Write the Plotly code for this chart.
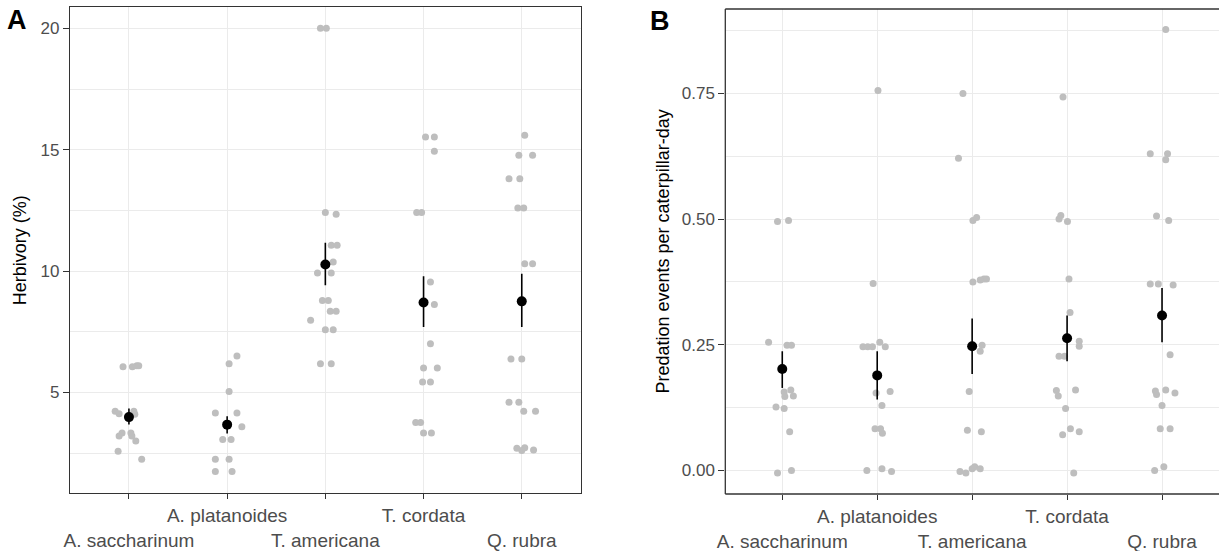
import plotly.graph_objects as go

# ---------------- data ----------------
species = ["A. saccharinum", "A. platanoides", "T. americana", "T. cordata", "Q. rubra"]
tick_text = ["\u00a0<br>A. saccharinum", "A. platanoides", "\u00a0<br>T. americana",
             "T. cordata", "\u00a0<br>Q. rubra"]

herb_sacc = [6.06, 6.06, 6.10, 6.10, 4.22, 4.12, 4.22, 4.10, 3.32, 3.20, 3.32, 3.20, 3.00, 2.57, 2.24]
herb_sacc_j = [-0.06, 0.035, 0.08, 0.10, -0.14, -0.10, 0.05, 0.06, -0.07, -0.10, 0.02, 0.03, 0.07, -0.11, 0.13]
herb_plat = [6.18, 6.50, 5.04, 4.15, 4.15, 3.58, 3.06, 3.06, 2.24, 2.24, 1.74, 1.74]
herb_plat_j = [0.02, 0.10, 0.02, -0.12, 0.10, 0.15, -0.045, 0.04, -0.12, 0.02, -0.12, 0.05]
herb_amer = [20.0, 20.0, 12.41, 12.34, 11.06, 11.06, 10.37, 9.92, 9.92, 8.79, 8.79, 8.34, 8.34, 7.97, 7.58, 7.58, 6.18, 6.18]
herb_amer_j = [-0.05, 0.01, 0.0, 0.11, 0.06, 0.12, 0.08, -0.08, 0.06, -0.03, 0.03, 0.05, 0.11, -0.15, 0.0, 0.08, -0.05, 0.06]
herb_cord = [15.52, 15.52, 14.94, 12.41, 12.41, 9.55, 8.62, 7.00, 6.00, 6.00, 5.43, 5.43, 3.76, 3.76, 3.32, 3.32]
herb_cord_j = [0.02, 0.11, 0.11, -0.07, -0.02, 0.07, 0.11, 0.07, 0.0, 0.14, -0.01, 0.07, -0.08, -0.03, 0.0, 0.08]
herb_rubr = [15.59, 14.77, 14.77, 13.80, 13.80, 12.60, 12.60, 10.30, 10.30, 6.37, 6.37, 4.59, 4.59, 4.22, 4.22, 2.70, 2.72, 2.60, 2.62]
herb_rubr_j = [0.03, -0.03, 0.11, -0.13, -0.02, -0.04, 0.02, 0.03, 0.11, -0.11, 0.0, -0.13, -0.03, 0.02, 0.14, -0.05, 0.03, 0.0, 0.12]

herb_mean = [3.98, 3.67, 10.27, 8.70, 8.75]
herb_low = [3.68, 3.30, 9.41, 7.69, 7.69]
herb_high = [4.33, 4.02, 11.16, 9.78, 9.89]

# Panel B: predation events per caterpillar-day
pred_sacc = [0.495, 0.497, 0.255, 0.249, 0.249, 0.156, 0.160, 0.147, 0.148, 0.126, 0.123, 0.077, -0.005, 0.0]
pred_sacc_j = [-0.05, 0.066, -0.144, 0.05, 0.097, 0.02, 0.09, 0.027, 0.117, -0.066, 0.02, 0.078, -0.05, 0.097]
pred_plat = [0.756, 0.372, 0.246, 0.246, 0.246, 0.255, 0.246, 0.154, 0.157, 0.129, 0.083, 0.083, 0.074, 0.0, 0.003, -0.002]
pred_plat_j = [0.008, -0.043, -0.15, -0.1, -0.05, 0.027, 0.085, -0.012, 0.136, 0.05, -0.023, 0.035, 0.055, -0.109, 0.05, 0.151]
pred_amer = [0.750, 0.621, 0.497, 0.503, 0.375, 0.379, 0.381, 0.381, 0.249, 0.237, 0.157, 0.080, 0.077, -0.002, -0.005, 0.003, 0.007, 0.003]
pred_amer_j = [-0.097, -0.144, 0.008, 0.047, 0.008, 0.085, 0.124, 0.151, 0.105, 0.085, -0.031, -0.05, 0.097, -0.128, -0.066, 0.0, 0.027, 0.085]
pred_cord = [0.743, 0.507, 0.500, 0.495, 0.381, 0.314, 0.257, 0.247, 0.227, 0.227, 0.159, 0.148, 0.160, 0.123, 0.071, 0.083, 0.077, -0.005]
pred_cord_j = [-0.043, -0.066, -0.085, 0.004, 0.02, 0.031, 0.128, 0.128, -0.085, -0.027, -0.113, -0.093, 0.089, -0.016, -0.047, 0.035, 0.128, 0.07]
pred_rubr = [0.877, 0.630, 0.630, 0.618, 0.506, 0.497, 0.371, 0.371, 0.369, 0.230, 0.158, 0.151, 0.160, 0.154, 0.129, 0.083, 0.083, 0.0, 0.007]
pred_rubr_j = [0.039, -0.124, 0.058, 0.039, -0.058, 0.07, -0.124, -0.039, 0.117, 0.085, -0.07, -0.058, 0.039, 0.136, 0.0, -0.019, 0.085, -0.078, 0.019]

pred_mean = [0.2016, 0.189, 0.247, 0.263, 0.308]
pred_low = [0.164, 0.141, 0.192, 0.217, 0.255]
pred_high = [0.237, 0.237, 0.302, 0.308, 0.363]

# ---------------- build ----------------
W, H = 1219, 551
FONT = "Liberation Sans"
GREY_PT = "#BEBEBE"
GRID = "#EBEBEB"
BORDER = "#333333"
TICKTXT = "#4D4D4D"

fig = go.Figure()

def add_panel(raw, jit, mean, low, high, xa, ya):
    xs, ys = [], []
    for i, (vals, js) in enumerate(zip(raw, jit)):
        for v, j in zip(vals, js):
            xs.append(i + j)
            ys.append(v)
    fig.add_trace(go.Scatter(x=xs, y=ys, mode="markers", xaxis=xa, yaxis=ya,
                             marker=dict(color=GREY_PT, size=7, line=dict(width=0)),
                             showlegend=False, hoverinfo="skip"))
    fig.add_trace(go.Scatter(x=list(range(len(mean))), y=mean, mode="markers", xaxis=xa, yaxis=ya,
                             marker=dict(color="black", size=10, line=dict(width=0)),
                             error_y=dict(type="data", symmetric=False,
                                          array=[h - m for h, m in zip(high, mean)],
                                          arrayminus=[m - l for m, l in zip(mean, low)],
                                          color="black", thickness=1.6, width=0),
                             showlegend=False, hoverinfo="skip"))

add_panel([herb_sacc, herb_plat, herb_amer, herb_cord, herb_rubr],
          [herb_sacc_j, herb_plat_j, herb_amer_j, herb_cord_j, herb_rubr_j],
          herb_mean, herb_low, herb_high, "x", "y")
add_panel([pred_sacc, pred_plat, pred_amer, pred_cord, pred_rubr],
          [pred_sacc_j, pred_plat_j, pred_amer_j, pred_cord_j, pred_rubr_j],
          pred_mean, pred_low, pred_high, "x2", "y2")

xcommon = dict(range=[-0.6, 4.6], tickvals=list(range(5)), ticktext=tick_text,
               tickangle=0, automargin=False,
               showgrid=True, gridcolor=GRID, gridwidth=1, zeroline=False,
               ticks="outside", ticklen=5, tickwidth=1.2, tickcolor=BORDER,
               tickfont=dict(family=FONT, size=19, color=TICKTXT))
ycommon = dict(showgrid=True, gridcolor=GRID, gridwidth=1, zeroline=False, automargin=False,
               ticks="outside", ticklen=6, tickwidth=1.2, tickcolor=BORDER,
               tickfont=dict(family=FONT, size=17, color=TICKTXT))

frame_line = dict(color=BORDER, width=1.3)
shapes = [
    # panel B frame: left, top and bottom edges (right edge lies outside the cropped image)
    dict(type="line", xref="x2 domain", yref="y2 domain", x0=0, x1=0, y0=0, y1=1,
         line=frame_line, layer="above"),
    dict(type="line", xref="x2 domain", yref="y2 domain", x0=0, x1=1, y0=1, y1=1,
         line=frame_line, layer="above"),
    dict(type="line", xref="x2 domain", yref="y2 domain", x0=0, x1=1, y0=0, y1=0,
         line=frame_line, layer="above"),
]

fig.update_layout(
    width=W, height=H, margin=dict(l=0, r=0, t=0, b=0, autoexpand=False),
    paper_bgcolor="white", plot_bgcolor="white",
    font=dict(family=FONT, color="black"),
    xaxis=dict(domain=[70 / W, 580.7 / W], anchor="y", showline=True, mirror=True,
               linecolor=BORDER, linewidth=1.3, **xcommon),
    yaxis=dict(domain=[1 - 493.3 / H, 1 - 7 / H], anchor="x", range=[0.84, 20.88],
               tickvals=[5, 10, 15, 20], showline=True, mirror=True,
               linecolor=BORDER, linewidth=1.3,
               minor=dict(dtick=2.5, tick0=0, showgrid=True, gridcolor=GRID, gridwidth=1, ticks=""),
               **ycommon),
    xaxis2=dict(domain=[725.3 / W, 1.0], anchor="y2", showline=False, **xcommon),
    yaxis2=dict(domain=[1 - 494 / H, 1 - 9 / H], anchor="x2", range=[-0.047, 0.918],
                tickvals=[0, 0.25, 0.5, 0.75], tickformat=".2f", showline=False,
                minor=dict(dtick=0.125, tick0=0, showgrid=True, gridcolor=GRID, gridwidth=1, ticks=""),
                **ycommon),
    shapes=shapes,
    annotations=[
        dict(text="<b>A</b>", x=16.5 / W, y=1 - 20 / H, xref="paper", yref="paper",
             showarrow=False, font=dict(family=FONT, size=27, color="black"),
             xanchor="center", yanchor="middle"),
        dict(text="<b>B</b>", x=660.3 / W, y=1 - 21 / H, xref="paper", yref="paper",
             showarrow=False, font=dict(family=FONT, size=27, color="black"),
             xanchor="center", yanchor="middle"),
        dict(text="Herbivory (%)", x=20.3 / W, y=1 - 250 / H, xref="paper", yref="paper",
             showarrow=False, textangle=-90, font=dict(family=FONT, size=18, color="black"),
             xanchor="center", yanchor="middle"),
        dict(text="Predation events per caterpillar-day", x=662 / W, y=1 - 251.5 / H,
             xref="paper", yref="paper", showarrow=False, textangle=-90,
             font=dict(family=FONT, size=18, color="black"),
             xanchor="center", yanchor="middle"),
    ],
)

fig.write_html("out.html", config={"displayModeBar": False},
               post_script="document.body.style.margin='0';document.body.style.overflow='hidden';"
                           "document.documentElement.style.overflow='hidden';")
